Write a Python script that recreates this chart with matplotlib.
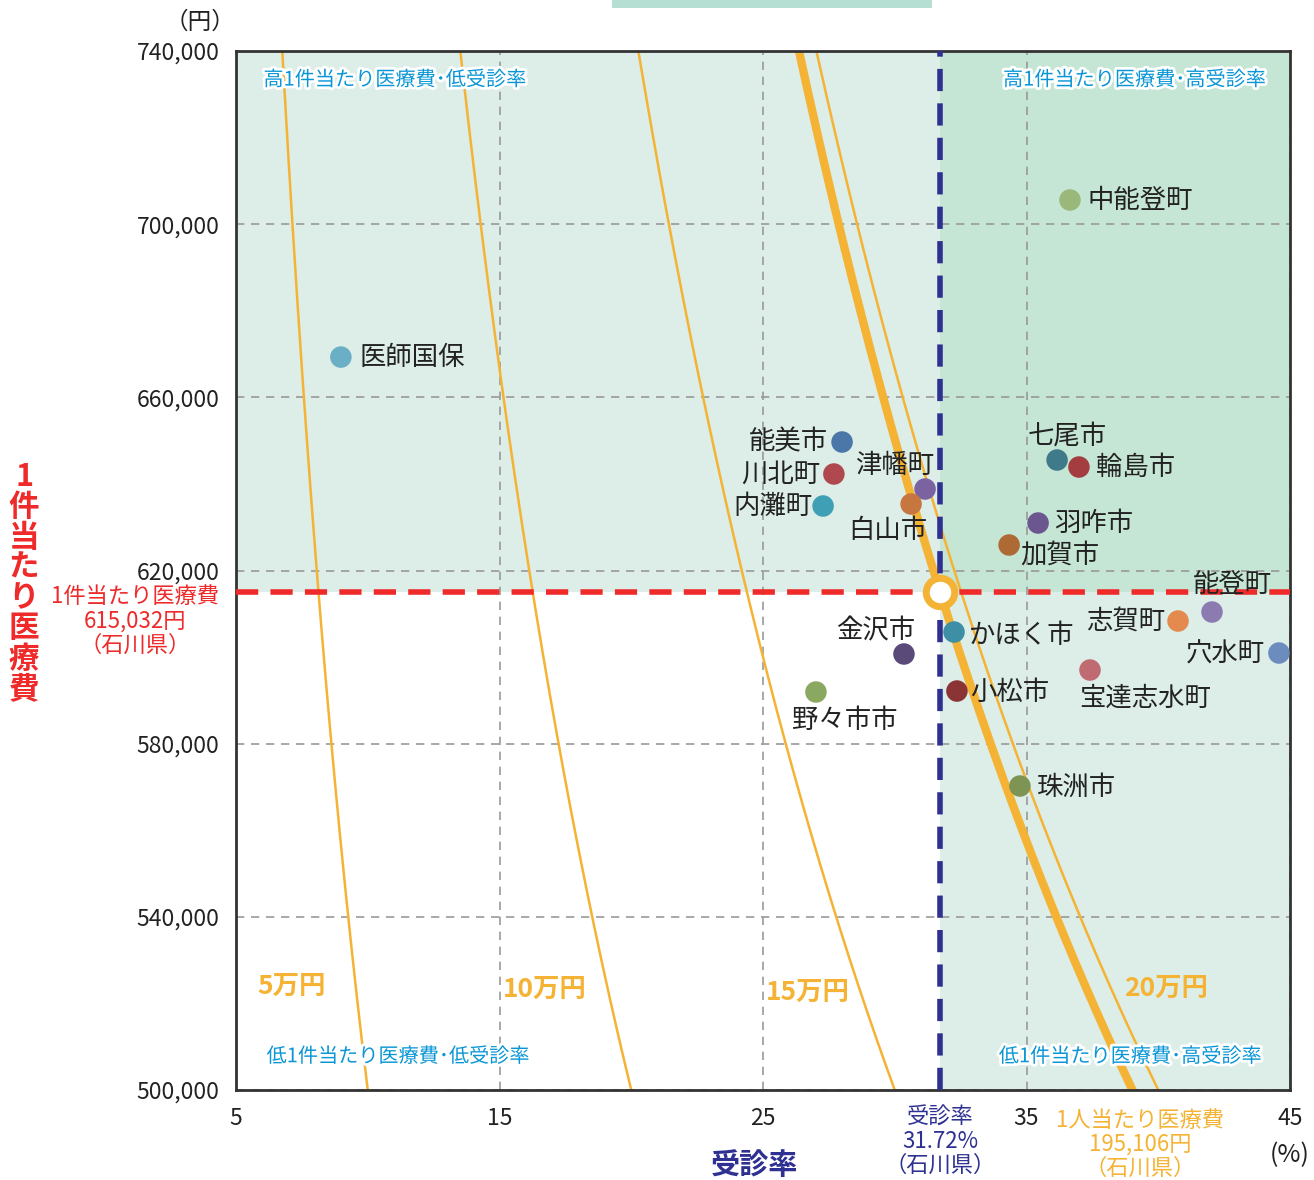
import matplotlib.pyplot as plt
import matplotlib.patheffects as pe
from matplotlib.patches import Rectangle
import numpy as np

plt.rcParams['font.family'] = ['Noto Sans CJK JP', 'DejaVu Sans']

# 市町・保険者ごとの受診率(%)と1件当たり医療費(円)
names = ['医師国保', '中能登町', '能美市', '川北町', '内灘町', '津幡町', '白山市',
         '七尾市', '輪島市', '羽咋市', '加賀市', '能登町', '志賀町', '穴水町',
         '宝達志水町', 'かほく市', '小松市', '金沢市', '野々市市', '珠洲市']
rate = [8.98, 36.65, 28.0, 27.69, 27.28, 31.15, 30.62,
        36.16, 36.99, 35.44, 34.34, 42.04, 40.75, 44.58,
        37.41, 32.25, 32.36, 30.35, 27.01, 34.75]
cost = [669300, 705580, 649680, 642290, 634900, 638820, 635360,
        645520, 643900, 630970, 625890, 610410, 608330, 600940,
        597010, 605790, 592160, 600710, 591930, 570215]
colors = ['#6aafc6', '#9ab87a', '#4a76a8', '#b0494f', '#3e9fb5', '#7b62a0', '#c8763f',
          '#3f7a8a', '#a33d3f', '#6b5690', '#ad6a34', '#8c7bb0', '#e48a4e', '#6b8cbd',
          '#c06a72', '#3e8fa5', '#8a3436', '#5a4a7a', '#8aa860', '#7d9455']

# 石川県平均
pref_rate = 31.72
pref_cost = 615032
pref_per_person = 195106

# 1人当たり医療費の等高線 (円)
levels = [50000, 100000, 150000, 200000]
level_labels = ['5万円', '10万円', '15万円', '20万円']

xticks = [5, 15, 25, 35, 45]
yticks = [500000, 540000, 580000, 620000, 660000, 700000, 740000]

# ラベル位置 (ピクセルオフセット, 揃え)
label_pos = {
    '医師国保': (19, 0, 'left'), '中能登町': (18, 0, 'left'), '能美市': (-14, 0, 'right'),
    '川北町': (-14, 0, 'right'), '内灘町': (-11, 0, 'right'), '津幡町': (-30, 24, 'center'),
    '白山市': (-23, -26, 'center'), '七尾市': (10, 24, 'center'), '輪島市': (17, 0, 'left'),
    '羽咋市': (16, 0, 'left'), '加賀市': (11, -10, 'left'), '能登町': (21, 28, 'center'),
    '志賀町': (-13, 0, 'right'), '穴水町': (-14, -1, 'right'), '宝達志水町': (55, -28, 'center'),
    'かほく市': (15, -3, 'left'), '小松市': (13, -1, 'left'), '金沢市': (-28, 23, 'center'),
    '野々市市': (29, -28, 'center'), '珠洲市': (17, -1, 'left'),
}

orange = '#f5b335'
red = '#ee2a2a'
navy = '#2e3192'
blue = '#0a96d6'

fig = plt.figure(figsize=(13.14, 11.8), dpi=100)
ax = fig.add_axes([236 / 1314, 1 - 1090 / 1180, (1290 - 236) / 1314, (1090 - 51) / 1180])
xmin, xmax = 5, 45
ymin, ymax = 500000, 740000
ax.set_xlim(xmin, xmax)
ax.set_ylim(ymin, ymax)

# 背景の象限
ax.add_patch(Rectangle((xmin, pref_cost), pref_rate - xmin, ymax - pref_cost,
                       facecolor='#dceee7', edgecolor='none', zorder=0))
ax.add_patch(Rectangle((pref_rate, pref_cost), xmax - pref_rate, ymax - pref_cost,
                       facecolor='#c6e6d5', edgecolor='none', zorder=0))
ax.add_patch(Rectangle((pref_rate, ymin), xmax - pref_rate, pref_cost - ymin,
                       facecolor='#dceee7', edgecolor='none', zorder=0))

ax.set_xticks(xticks)
ax.set_yticks(yticks)
ax.set_xticklabels([str(t) for t in xticks])
ax.set_yticklabels(['{:,}'.format(t) for t in yticks])
ax.tick_params(length=0, labelsize=16.5, colors='#222222', pad=12)
ax.grid(True, color='#999999', linestyle=(0, (5, 4)), linewidth=1.2, zorder=1)
for s in ax.spines.values():
    s.set_color('#333333')
    s.set_linewidth(2)

# 等高線
yy = np.linspace(ymin, ymax, 200)
for lv in levels:
    ax.plot(lv / yy * 100, yy, color=orange, linewidth=1.8, zorder=2)
ax.plot(pref_per_person / yy * 100, yy, color=orange, linewidth=6, zorder=2)

label_xy = [(7.1, 524000), (16.7, 523300), (26.7, 522600), (40.3, 523500)]
for txt, (lx, ly) in zip(level_labels, label_xy):
    ax.text(lx, ly, txt, color=orange, fontsize=19, fontweight='bold', ha='center', va='center', zorder=3)

# 県平均線
ax.axhline(pref_cost, color=red, linewidth=4, dashes=(4, 2.2), zorder=3)
ax.axvline(pref_rate, color=navy, linewidth=4, dashes=(4, 2.2), zorder=3)

# 各市町
ax.scatter(rate, cost, s=240, c=colors, edgecolors='none', zorder=4)
for n, x, y in zip(names, rate, cost):
    dx, dy, ha = label_pos[n]
    ax.annotate(n, (x, y), xytext=(dx, dy), textcoords='offset pixels', ha=ha, va='center',
                fontsize=19, color='#222222', zorder=5)

ax.scatter([pref_rate], [pref_cost], s=420, facecolor='white', edgecolor=orange, linewidth=5, zorder=6)

# 象限ラベル
stroke = [pe.withStroke(linewidth=4, foreground='white')]
qkw = dict(transform=ax.transAxes, color=blue, fontsize=14.5, va='center', path_effects=stroke, zorder=5)
ax.text(0.026, 0.972, '高1件当たり医療費･低受診率', ha='left', **qkw)
ax.text(0.977, 0.972, '高1件当たり医療費･高受診率', ha='right', **qkw)
ax.text(0.029, 0.032, '低1件当たり医療費･低受診率', ha='left', **qkw)
ax.text(0.973, 0.032, '低1件当たり医療費･高受診率', ha='right', **qkw)

# 軸ラベルと注記
fig.text(24 / 1314, 1 - 583 / 1180, '\n'.join('1件当たり医療費'), color=red, fontsize=22,
         fontweight='bold', ha='center', va='center', linespacing=0.93)
fig.text(755 / 1314, 1 - 1165 / 1180, '受診率', color=navy, fontsize=21, fontweight='bold',
         ha='center', va='center')
fig.text(200 / 1314, 1 - 22 / 1180, '（円）', color='#222222', fontsize=17, ha='center', va='center')
fig.text(1290 / 1314, 1 - 1155 / 1180, '(%)', color='#222222', fontsize=18, ha='center', va='center')
fig.text(135 / 1314, 1 - 621 / 1180, '1件当たり医療費\n{:,}円\n（石川県）'.format(pref_cost), color=red,
         fontsize=16, ha='center', va='center', linespacing=1.08)
fig.text(940 / 1314, 1 - 1141 / 1180, '受診率\n{:.2f}%\n（石川県）'.format(pref_rate), color=navy,
         fontsize=16, ha='center', va='center', linespacing=1.05)
fig.text(1140 / 1314, 1 - 1144 / 1180, '1人当たり医療費\n{:,}円\n（石川県）'.format(pref_per_person),
         color=orange, fontsize=16, ha='center', va='center', linespacing=1.05)

# 上部の帯
fig.patches.append(Rectangle((612 / 1314, 1 - 8 / 1180), 320 / 1314, 8 / 1180,
                             transform=fig.transFigure, facecolor='#b5dfd2', edgecolor='none'))

fig.savefig('out.png', dpi=100)
